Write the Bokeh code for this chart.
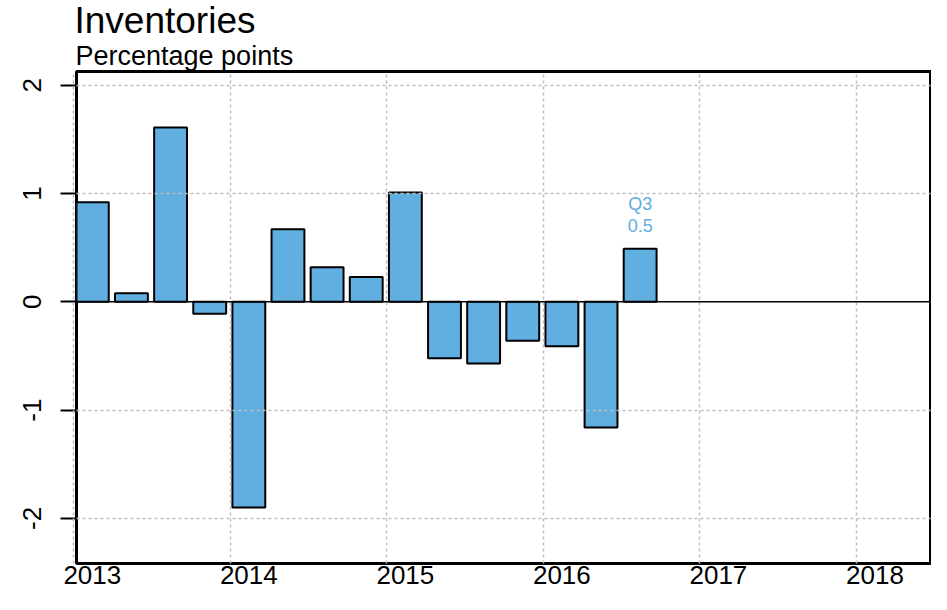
from bokeh.plotting import figure
from bokeh.models import Range1d, FixedTicker, CustomJSTickFormatter, Span, Title, ColumnDataSource
from bokeh.core.properties import value
from bokeh.embed import file_html
from bokeh.resources import INLINE

# ---- data ----
quarters = ["2013Q1", "2013Q2", "2013Q3", "2013Q4",
            "2014Q1", "2014Q2", "2014Q3", "2014Q4",
            "2015Q1", "2015Q2", "2015Q3", "2015Q4",
            "2016Q1", "2016Q2", "2016Q3"]
values = [0.92, 0.08, 1.61, -0.11,
          -1.90, 0.67, 0.32, 0.23,
          1.01, -0.52, -0.57, -0.36,
          -0.41, -1.16, 0.49]
year_ticks = [2013, 2014, 2015, 2016, 2017, 2018]
y_ticks = [-2, -1, 0, 1, 2]
title_text = "Inventories"
subtitle_text = "Percentage points"

FONT = "Liberation Sans"
BAR = "#61AEE0"
QOFF = 0.12


def qpos(s):
    yr, q = s.split("Q")
    return int(yr) + (int(q) - 1) * 0.25 + QOFF


xs = [qpos(s) for s in quarters]

p = figure(width=931, height=594, output_backend="svg", toolbar_location=None, title=None,
           x_range=Range1d(2013.019, 2018.475), y_range=Range1d(-2.416, 2.127),
           min_border_left=76, min_border_top=70, min_border_right=1, min_border_bottom=31)
p.background_fill_color = "white"
p.border_fill_color = "white"
p.outline_line_color = "black"
p.outline_line_width = 3

src = ColumnDataSource(dict(x=xs, top=values))
p.vbar(x="x", top="top", bottom=0, width=0.21, source=src,
       fill_color=BAR, line_color="black", line_width=2)

# grid
p.xgrid.ticker = FixedTicker(ticks=year_ticks)
p.ygrid.ticker = FixedTicker(ticks=[t for t in y_ticks if t != 0])
for g in (p.xgrid, p.ygrid):
    g.grid_line_color = "#BEBEBE"
    g.grid_line_dash = "3 3"
    g.grid_line_width = 1.5
    g.level = "annotation"

p.add_layout(Span(location=0, dimension="width", line_color="black", line_width=1.5))

# axes
p.xaxis.ticker = FixedTicker(ticks=[y + QOFF for y in year_ticks])
p.xaxis.formatter = CustomJSTickFormatter(code="return Math.floor(tick).toString();")
p.yaxis.ticker = FixedTicker(ticks=y_ticks)
p.yaxis.formatter = CustomJSTickFormatter(code="return tick.toString();")
for ax in (p.xaxis, p.yaxis):
    ax.axis_line_color = None
    ax.minor_tick_line_color = None
    ax.major_label_text_font = FONT
    ax.major_label_text_font_size = "26px"
    ax.major_label_text_color = "black"
p.xaxis.major_tick_line_color = None
p.xaxis.major_tick_out = 0
p.xaxis.major_tick_in = 0
p.xaxis.major_label_standoff = 2
p.yaxis.major_tick_out = 16
p.yaxis.major_tick_in = 0
p.yaxis.major_tick_line_width = 2
p.yaxis.major_tick_line_color = "black"
p.yaxis.major_label_orientation = "vertical"
p.yaxis.major_label_standoff = 19

# annotation for last bar
last_q = "Q" + quarters[-1].split("Q")[1]
last_v = f"{values[-1]:.1f}"
p.text(x=[xs[-1], xs[-1]], y=[values[-1] + 0.415, values[-1] + 0.215],
       text=[last_q, last_v], text_align="center", text_baseline="middle",
       text_font_size="18px", text_color=BAR, text_font=value(FONT))

# titles (first added sits closest to the plot)
p.add_layout(Title(text=subtitle_text, text_font=FONT, text_font_size="27px",
                   text_font_style="normal", text_color="black", align="left",
                   standoff=1, offset=-1), "above")
p.add_layout(Title(text=title_text, text_font=FONT, text_font_size="37px",
                   text_font_style="normal", text_color="black", align="left",
                   standoff=-5, offset=-2), "above")

open("out.html", "w").write(file_html(p, INLINE))
